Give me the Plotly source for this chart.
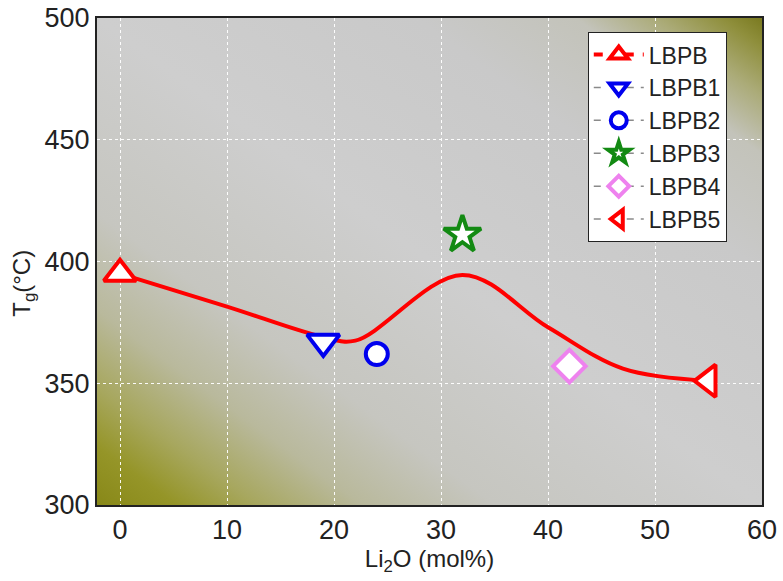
import base64
import plotly.graph_objects as go

# ---- data ----
names = ["LBPB", "LBPB1", "LBPB2", "LBPB3", "LBPB4", "LBPB5"]
li2o = [0, 19, 24, 32, 42, 55]
tg = [395, 367, 362, 411, 357, 351]
symbols = ["triangle-up", "triangle-down", "circle", "star", "diamond", "triangle-left"]
colors = ["#ff0000", "#0000ee", "#0000ee", "#138a13", "#ee82ee", "#ff0000"]
sizes = [28, 28, 22, 28, 25, 28]

# fitted trend curve knots
curve_x = [0, 10, 19, 22, 32, 40, 47, 55]
curve_y = [395, 381.5, 369, 367.5, 394.5, 373, 356, 351]

x_ticks = [0, 10, 20, 30, 40, 50, 60]
y_ticks = [300, 350, 400, 450, 500]

# ---- background gradient ----
svg = """<svg xmlns='http://www.w3.org/2000/svg' width='665' height='487' viewBox='0 0 665 487' preserveAspectRatio='none'>
<defs><linearGradient id='g' x1='0' y1='1' x2='1' y2='0'>
<stop offset='0' stop-color='#888818'/>
<stop offset='0.06' stop-color='#959528'/>
<stop offset='0.12' stop-color='#a7a75e'/>
<stop offset='0.20' stop-color='#b9b99c'/>
<stop offset='0.30' stop-color='#c6c6c0'/>
<stop offset='0.50' stop-color='#cecece'/>
<stop offset='0.74' stop-color='#c9c9c9'/>
<stop offset='0.86' stop-color='#c3c3ba'/>
<stop offset='0.92' stop-color='#abab78'/>
<stop offset='0.97' stop-color='#8f8f3c'/>
<stop offset='1' stop-color='#7a7a20'/>
</linearGradient></defs>
<rect x='0' y='0' width='665' height='487' fill='url(#g)'/></svg>"""
bg_uri = "data:image/svg+xml;base64," + base64.b64encode(svg.encode()).decode()

fig = go.Figure()

# trend curve
fig.add_trace(go.Scatter(
    x=curve_x, y=curve_y, mode="lines",
    line=dict(color="#ff0000", width=4, shape="spline", smoothing=1.0),
    showlegend=False, hoverinfo="skip",
))

for i, n in enumerate(names):
    first = i == 0
    fig.add_trace(go.Scatter(
        x=[li2o[i]], y=[tg[i]], name=n, mode="lines+markers",
        marker=dict(symbol=symbols[i], size=sizes[i], color="white",
                    line=dict(width=4, color=colors[i])),
        line=dict(color="#ff0000" if first else "#8a8a8a",
                  width=4 if first else 1.5,
                  dash="9px,22px,9px" if first else "7px,26px,7px"),
    ))

axis_common = dict(
    showline=True, linecolor="#222222", linewidth=2, mirror=True,
    showgrid=True, gridcolor="rgba(255,255,255,0.95)", gridwidth=1, griddash="dot",
    zeroline=False, ticks="", automargin=False,
    tickfont=dict(family="Liberation Sans, Arial, sans-serif", size=27, color="#222222"),
)

fig.update_layout(
    width=783, height=581,
    margin=dict(l=97, r=21, t=18, b=76, autoexpand=False),
    paper_bgcolor="white", plot_bgcolor="#c8c8c8",
    font=dict(family="Liberation Sans, Arial, sans-serif", color="#222222"),
    xaxis=dict(range=[-2.15, 60], tickvals=x_ticks,
               title=dict(text="Li<sub>2</sub>O (mol%)", font=dict(size=24), standoff=4),
               **axis_common),
    yaxis=dict(range=[300, 500], tickvals=y_ticks, **axis_common),
    legend=dict(x=0.738, y=0.971, xanchor="left", yanchor="top",
                bgcolor="white", bordercolor="#222222", borderwidth=1,
                font=dict(size=23, color="#222222"), tracegroupgap=0,
                itemsizing="trace", itemwidth=50),
    annotations=[dict(text="T<sub>g</sub>(°C)", textangle=-90, xref="paper", yref="paper",
                      x=-0.11, y=0.456, xanchor="center", yanchor="middle",
                      showarrow=False, font=dict(size=24, color="#222222"))],
    images=[dict(source=bg_uri, xref="paper", yref="paper", x=0, y=1,
                 sizex=1, sizey=1, sizing="stretch", layer="below")],
    showlegend=True,
)

fig.write_html("out.html", config={"displayModeBar": False},
               post_script="document.body.style.margin='0';")
